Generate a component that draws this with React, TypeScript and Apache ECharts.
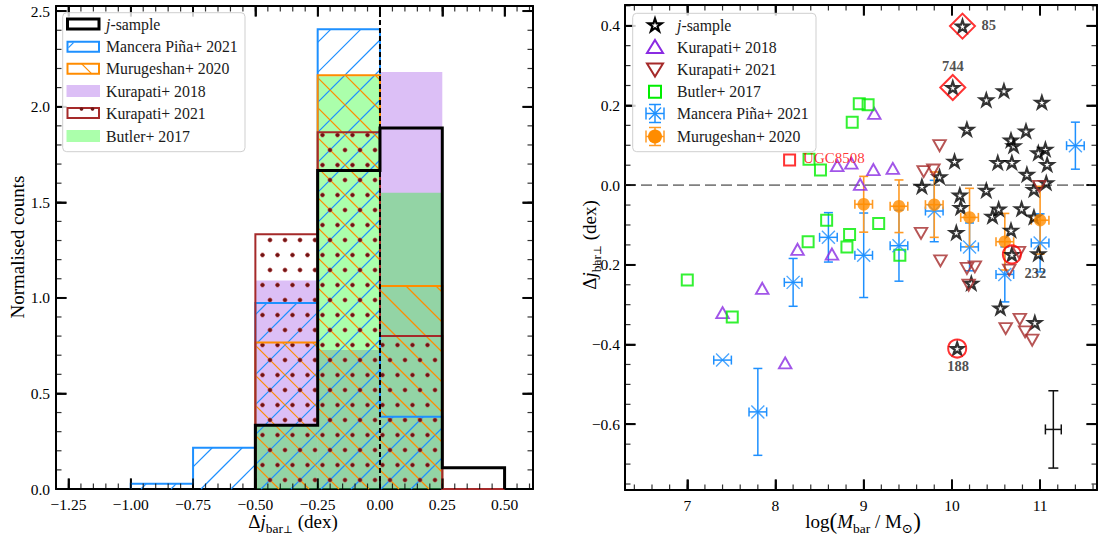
import React, { useEffect, useRef } from "react";
import * as echarts from "echarts";

const SERIF = "'Liberation Serif', 'DejaVu Serif', serif";

// ---------------- Left panel: normalised histograms (bin width 0.25 dex) ----------------
const jSampleEdges = [-0.5, -0.25, 0.0, 0.25, 0.5];
const jSampleHist = [0.333, 1.667, 1.889, 0.111];
const manceraEdges = [-1.0, -0.75, -0.5, -0.25, 0.0, 0.25];
const manceraHist = [0.027, 0.216, 0.973, 2.405, 0.378];
const murugeshanEdges = [-0.5, -0.25, 0.0, 0.25];
const murugeshanHist = [0.767, 2.165, 1.062];
const kurapati18Edges = [-0.5, -0.25, 0.0, 0.25];
const kurapati18Hist = [1.091, 0.727, 2.182];
const kurapati21Edges = [-0.5, -0.25, 0.0, 0.25, 0.5];
const kurapati21Hist = [1.333, 1.867, 0.8, 0.0];
const butlerEdges = [-0.5, -0.25, 0.0, 0.25];
const butlerHist = [0.33, 2.16, 1.55];

const leftXTicks = [-1.25, -1.0, -0.75, -0.5, -0.25, 0.0, 0.25, 0.5];
const leftXLabels = ["−1.25", "−1.00", "−0.75", "−0.50", "−0.25", "0.00", "0.25", "0.50"];
const leftYTicks = [0, 0.5, 1.0, 1.5, 2.0, 2.5];
const leftYLabels = ["0.0", "0.5", "1.0", "1.5", "2.0", "2.5"];

// ---------------- Right panel: scatter data [logMbar, delta j] ----------------
const jSample = [
  [10.12, 0.399], [10.01, 0.245], [10.39, 0.214], [10.59, 0.237], [11.02, 0.208],
  [10.17, 0.14], [10.84, 0.136], [10.67, 0.113], [10.7, 0.099], [10.98, 0.081],
  [11.06, 0.09], [10.03, 0.06], [10.52, 0.057], [10.68, 0.057], [11.08, 0.052],
  [10.85, 0.027], [9.86, 0.021], [9.66, -0.003], [10.39, -0.013], [10.09, -0.025],
  [10.93, -0.011], [11.07, 0.006], [10.1, -0.056], [10.79, -0.059], [10.53, -0.06],
  [10.46, -0.078], [10.05, -0.119], [10.67, -0.113], [10.68, -0.174], [10.98, -0.172],
  [10.93, -0.08], [10.22, -0.246], [10.55, -0.308], [10.94, -0.345], [10.06, -0.41],
];
const kurapati2018 = [
  [9.12, 0.18], [8.7, 0.049], [8.86, 0.055], [9.11, 0.039], [9.33, 0.042], [8.96, 0.002],
  [8.25, -0.161], [8.64, -0.173], [7.85, -0.259], [7.4, -0.32], [8.11, -0.446],
];
const kurapati2021 = [
  [9.86, 0.099], [9.68, 0.034], [9.79, 0.038], [10.99, -0.003], [9.65, -0.121],
  [9.87, -0.19], [10.76, -0.169], [10.17, -0.209], [10.26, -0.205], [10.19, -0.251],
  [10.65, -0.213], [10.61, -0.36], [10.77, -0.337], [10.83, -0.368], [10.91, -0.389],
];
const butler2017 = [
  [8.95, 0.204], [9.05, 0.202], [8.87, 0.158], [8.38, 0.065], [8.51, 0.038],
  [8.58, -0.088], [9.17, -0.096], [8.84, -0.124], [8.37, -0.142], [8.81, -0.155],
  [9.41, -0.176], [7.0, -0.238], [7.51, -0.331],
];
// [x, y, xerr, yerr]
const manceraPina2021 = [
  [7.4, -0.439, 0.1, 0], [7.8, -0.569, 0.1, 0.109], [8.2, -0.244, 0.1, 0.06],
  [8.6, -0.131, 0.1, 0.062], [9.0, -0.176, 0.1, 0.106], [9.4, -0.152, 0.1, 0.089],
  [9.8, -0.065, 0.1, 0.077], [10.2, -0.155, 0.1, 0.06], [10.6, -0.224, 0.1, 0.069],
  [11.0, -0.145, 0.1, 0.073], [11.4, 0.099, 0.1, 0.059],
];
const murugeshan2020 = [
  [9.0, -0.048, 0.1, 0.07], [9.4, -0.053, 0.1, 0.066], [9.8, -0.049, 0.1, 0.082],
  [10.2, -0.081, 0.1, 0.073], [10.6, -0.142, 0.1, 0.071], [11.0, -0.088, 0.1, 0.085],
];
const typicalError = [[11.15, -0.613, 0.09, 0.097]];
const highlightDiamonds = [[10.12, 0.399], [10.01, 0.245]];
const highlightCircles = [[10.68, -0.174], [10.06, -0.41]];
const ugcSquare = [[8.16, 0.063]];
const annotNames = ["85", "744", "232", "188"];
const annotPoints = [[10.12, 0.399], [10.01, 0.245], [10.68, -0.174], [10.06, -0.41]];

const rightXTicks = [7, 8, 9, 10, 11];
const rightXLabels = ["7", "8", "9", "10", "11"];
const rightYTicks = [-0.6, -0.4, -0.2, 0.0, 0.2, 0.4];
const rightYLabels = ["−0.6", "−0.4", "−0.2", "0.0", "0.2", "0.4"];

// ---------------- layout / style ----------------
const LX = [-1.3, 0.614];
const LY = [0, 2.527];
const RX = [6.294, 11.645];
const RY = [-0.765, 0.452];

const C_BLUE = "#1e90ff";
const C_ORANGE = "#ff8c00";
const C_BROWN = "#a52a2a";
const C_PURPLE = "#8a2be2";
const C_PURPLE_FILL = "rgba(138,43,226,0.3)";
const C_GREEN_FILL = "rgba(0,255,0,0.33)";
const C_LIME = "#00ee00";

const STAR_D =
  "M7 0 L8.57 4.84 L13.66 4.84 L9.54 7.83 L11.11 12.66 L7 9.67 L2.89 12.66 L4.46 7.83 L0.34 4.84 L5.43 4.84 Z";

let shapesRegistered = false;
function ensureShapes() {
  if (shapesRegistered) return;
  echarts.graphic.registerShape("legendStar", echarts.graphic.extendPath(STAR_D, {}));
  shapesRegistered = true;
}

function range(a: number, b: number, step: number) {
  const out: number[] = [];
  const n = Math.round((b - a) / step);
  for (let i = 0; i <= n; i++) out.push(+(a + i * step).toFixed(4));
  return out;
}
const leftXMinor = range(-1.25, 0.6, 0.05);
const leftYMinor = range(0.1, 2.5, 0.1);
const rightXMinor = range(6.4, 11.6, 0.2);
const rightYMinor = range(-0.75, 0.45, 0.05);

function makeAxes(kind: "x" | "y", gridIndex: number, mm: number[], major: number[], labels: string[], margin: number) {
  const isX = kind === "x";
  const common: any = {
    type: "value", gridIndex, min: mm[0], max: mm[1],
    splitLine: { show: false },
    axisTick: { show: true, inside: true, length: 10.5, customValues: major, lineStyle: { color: "#000", width: 1.8 } },
    axisLine: { show: true, onZero: false, lineStyle: { color: "#000", width: 2 } },
  };
  const fmt = (v: number) => {
    const i = major.findIndex((t) => Math.abs(t - v) < 1e-6);
    return i >= 0 ? labels[i] : "";
  };
  return [
    { ...common, position: isX ? "bottom" : "left", axisLabel: { show: true, customValues: major, formatter: fmt, margin, fontFamily: SERIF, fontSize: 15.5, color: "#000" } },
    { ...common, position: isX ? "top" : "right", axisLabel: { show: false, customValues: major } },
  ];
}

// inward frame ticks as small rect markers placed on the frame by the panel's own scales
function tickMarks(ai: number, xr: number[], yr: number[], xMaj: number[], xMin: number[], yMaj: number[], yMin: number[]) {
  const mk = (data: number[][], size: number[], offset: number[]) => ({
    type: "scatter", xAxisIndex: ai, yAxisIndex: ai, z: 9, silent: true, clip: false,
    symbol: "rect", symbolSize: size, symbolOffset: offset, itemStyle: { color: "#000" }, data,
  });
  const L1 = 10.5, W1 = 1.8, L2 = 5.5, W2 = 1.2;
  return [
    mk(xMaj.map((v) => [v, yr[0]]), [W1, L1], [0, -L1 / 2]),
    mk(xMaj.map((v) => [v, yr[1]]), [W1, L1], [0, L1 / 2]),
    mk(xMin.map((v) => [v, yr[0]]), [W2, L2], [0, -L2 / 2]),
    mk(xMin.map((v) => [v, yr[1]]), [W2, L2], [0, L2 / 2]),
    mk(yMaj.map((v) => [xr[0], v]), [L1, W1], [L1 / 2, 0]),
    mk(yMaj.map((v) => [xr[1], v]), [L1, W1], [-L1 / 2, 0]),
    mk(yMin.map((v) => [xr[0], v]), [L2, W2], [L2 / 2, 0]),
    mk(yMin.map((v) => [xr[1], v]), [L2, W2], [-L2 / 2, 0]),
  ];
}

const toBins = (edges: number[], hist: number[]) => hist.map((h, i) => [edges[i], edges[i + 1], h]);
const stepData = (edges: number[], hist: number[]) => {
  const pts: number[][] = [[edges[0], 0]];
  hist.forEach((h, i) => {
    pts.push([edges[i], h]);
    pts.push([edges[i + 1], h]);
  });
  pts.push([edges[edges.length - 1], 0]);
  return pts;
};

function binRect(api: any) {
  const a = api.coord([api.value(0), api.value(2)]);
  const b = api.coord([api.value(1), 0]);
  return { L: Math.min(a[0], b[0]), R: Math.max(a[0], b[0]), T: Math.min(a[1], b[1]), B: Math.max(a[1], b[1]) };
}

const fillSeries = (edges: number[], hist: number[], color: string, z: number) => ({
  type: "custom", xAxisIndex: 0, yAxisIndex: 0, z, silent: true,
  data: toBins(edges, hist),
  renderItem: (_p: any, api: any) => {
    const r = binRect(api);
    return { type: "rect", shape: { x: r.L, y: r.T, width: r.R - r.L, height: r.B - r.T }, style: { fill: color } };
  },
});

const hatchSeries = (edges: number[], hist: number[], color: string, dir: "/" | "\\", z: number) => ({
  type: "custom", xAxisIndex: 0, yAxisIndex: 0, z, silent: true,
  data: toBins(edges, hist),
  renderItem: (_p: any, api: any) => {
    const { L, R, T, B } = binRect(api);
    const s = 30;
    const children: any[] = [];
    if (B - T > 0.5) {
      if (dir === "/") {
        for (let c = Math.ceil((L + T) / s) * s; c <= R + B; c += s) {
          const xa = Math.max(L, c - B), xb = Math.min(R, c - T);
          if (xb > xa) children.push({ type: "line", shape: { x1: xa, y1: c - xa, x2: xb, y2: c - xb }, style: { stroke: color, lineWidth: 1.2 } });
        }
      } else {
        for (let c = Math.ceil((L - B) / s) * s; c <= R - T; c += s) {
          const xa = Math.max(L, c + T), xb = Math.min(R, c + B);
          if (xb > xa) children.push({ type: "line", shape: { x1: xa, y1: xa - c, x2: xb, y2: xb - c }, style: { stroke: color, lineWidth: 1.2 } });
        }
      }
    }
    return { type: "group", children };
  },
});

const dotSeries = (edges: number[], hist: number[], z: number) => ({
  type: "custom", xAxisIndex: 0, yAxisIndex: 0, z, silent: true,
  data: toBins(edges, hist),
  renderItem: (_p: any, api: any) => {
    const { L, R, T, B } = binRect(api);
    const sp = 15;
    const children: any[] = [];
    for (let k = Math.ceil((T + 2) / sp); k * sp <= B - 2; k++) {
      const yy = k * sp;
      const off = Math.abs(k) % 2 === 1 ? sp / 2 : 0;
      for (let m = Math.ceil((L + 2 - off) / sp); m * sp + off <= R - 2; m++) {
        children.push({ type: "circle", shape: { cx: m * sp + off, cy: yy, r: 2.1 }, style: { fill: "#6e1616", stroke: "#c04848", lineWidth: 0.6 } });
      }
    }
    return { type: "group", children };
  },
});

const outlineSeries = (edges: number[], hist: number[], color: string, width: number, z: number) => ({
  type: "line", xAxisIndex: 0, yAxisIndex: 0, z, silent: true, symbol: "none",
  data: stepData(edges, hist),
  lineStyle: { color, width, join: "miter", cap: "butt" },
});

function errRender(color: string, width: number, cap: number) {
  return (_p: any, api: any) => {
    const x = api.value(0), y = api.value(1), ex = api.value(2), ey = api.value(3);
    const c = api.coord([x, y]);
    const segs: number[][] = [];
    if (ex > 0) {
      const l = api.coord([x - ex, y]), r = api.coord([x + ex, y]);
      segs.push([l[0], c[1], r[0], c[1]], [l[0], c[1] - cap, l[0], c[1] + cap], [r[0], c[1] - cap, r[0], c[1] + cap]);
    }
    if (ey > 0) {
      const t = api.coord([x, y + ey]), b = api.coord([x, y - ey]);
      segs.push([c[0], t[1], c[0], b[1]], [c[0] - cap, t[1], c[0] + cap, t[1]], [c[0] - cap, b[1], c[0] + cap, b[1]]);
    }
    return {
      type: "group",
      children: segs.map((s) => ({ type: "line", shape: { x1: s[0], y1: s[1], x2: s[2], y2: s[3] }, style: { stroke: color, lineWidth: width } })),
    };
  };
}

const RI = { xAxisIndex: 2, yAxisIndex: 2 };
const hollow = (color: string, w: number) => ({ color: "rgba(0,0,0,0)", borderColor: color, borderWidth: w });

function buildGraphics(): any[] {
  const LEG_FONT = 15.8;
  const txt = (x: number, y: number, text: string, extra: any = {}) => ({
    type: "text", x, y, z: 100,
    style: { text, fontFamily: SERIF, fontSize: LEG_FONT, fill: "#1a1a1a", verticalAlign: "middle", align: "left", ...extra },
  });
  const jRich = {
    i: { fontFamily: SERIF, fontStyle: "italic", fontSize: LEG_FONT },
    n: { fontFamily: SERIF, fontSize: LEG_FONT },
  };

  const leftRows = [24, 46.7, 68.7, 91, 113, 136];
  const px0 = 67.5, pw = 31.5, ph = 10;
  const leftLegend: any[] = [
    { type: "rect", z: 99, shape: { x: 62.7, y: 12.7, width: 182.3, height: 139, r: 4 }, style: { fill: "rgba(255,255,255,0.8)", stroke: "#cfcfcf", lineWidth: 1 } },
    { type: "rect", z: 100, shape: { x: px0, y: leftRows[0] - ph / 2, width: pw, height: ph }, style: { fill: "none", stroke: "#000", lineWidth: 3 } },
    { type: "rect", z: 100, shape: { x: px0, y: leftRows[1] - ph / 2, width: pw, height: ph }, style: { fill: "none", stroke: C_BLUE, lineWidth: 2 } },
    { type: "line", z: 100, shape: { x1: px0 + 1, y1: leftRows[1] + 1, x2: px0 + 6, y2: leftRows[1] - 4 }, style: { stroke: C_BLUE, lineWidth: 1.2 } },
    { type: "rect", z: 100, shape: { x: px0, y: leftRows[2] - ph / 2, width: pw, height: ph }, style: { fill: "none", stroke: C_ORANGE, lineWidth: 2 } },
    { type: "line", z: 100, shape: { x1: px0 + 14, y1: leftRows[2] - 5, x2: px0 + 24, y2: leftRows[2] + 5 }, style: { stroke: C_ORANGE, lineWidth: 1.2 } },
    { type: "rect", z: 100, shape: { x: px0 - 1, y: leftRows[3] - ph / 2 - 1, width: pw + 2, height: ph + 2 }, style: { fill: C_PURPLE_FILL } },
    { type: "rect", z: 100, shape: { x: px0, y: leftRows[4] - ph / 2, width: pw, height: ph }, style: { fill: "none", stroke: C_BROWN, lineWidth: 2 } },
    { type: "circle", z: 100, shape: { cx: px0 + 14, cy: leftRows[4] - ph / 2 + 1, r: 1.8 }, style: { fill: "#6e1616" } },
    { type: "circle", z: 100, shape: { cx: px0 + 25, cy: leftRows[4] - ph / 2 + 1, r: 1.8 }, style: { fill: "#6e1616" } },
    { type: "rect", z: 100, shape: { x: px0 - 1, y: leftRows[5] - ph / 2 - 1, width: pw + 2, height: ph + 2 }, style: { fill: C_GREEN_FILL } },
    txt(106, leftRows[0], "{i|j}{n|-sample}", { rich: jRich }),
    txt(106, leftRows[1], "Mancera Piña+ 2021"),
    txt(106, leftRows[2], "Murugeshan+ 2020"),
    txt(106, leftRows[3], "Kurapati+ 2018"),
    txt(106, leftRows[4], "Kurapati+ 2021"),
    txt(106, leftRows[5], "Butler+ 2017"),
  ];

  const rRows = [25, 47, 69.5, 91.7, 113.5, 136.5];
  const mx = 655, tx = 677;
  const errGlyph = (cy: number, color: string) => {
    const e = 9, cap = 6;
    const segs = [
      [mx - e, cy, mx + e, cy], [mx - e, cy - cap, mx - e, cy + cap], [mx + e, cy - cap, mx + e, cy + cap],
      [mx, cy - e, mx, cy + e], [mx - cap, cy - e, mx + cap, cy - e], [mx - cap, cy + e, mx + cap, cy + e],
    ];
    return segs.map((s) => ({ type: "line", z: 100, shape: { x1: s[0], y1: s[1], x2: s[2], y2: s[3] }, style: { stroke: color, lineWidth: 1.5 } }));
  };
  const rightLegend: any[] = [
    { type: "rect", z: 99, shape: { x: 632.7, y: 13.3, width: 183.3, height: 138.4, r: 4 }, style: { fill: "rgba(255,255,255,0.8)", stroke: "#cfcfcf", lineWidth: 1 } },
    { type: "legendStar", z: 100, x: mx - 7, y: rRows[0] - 6.5, style: { fill: "none", stroke: "#000", lineWidth: 2.2 } },
    { type: "polygon", z: 100, shape: { points: [[mx, rRows[1] - 7], [mx + 8, rRows[1] + 6], [mx - 8, rRows[1] + 6]] }, style: { fill: "none", stroke: C_PURPLE, lineWidth: 2 } },
    { type: "polygon", z: 100, shape: { points: [[mx - 8, rRows[2] - 6], [mx + 8, rRows[2] - 6], [mx, rRows[2] + 7]] }, style: { fill: "none", stroke: C_BROWN, lineWidth: 2 } },
    { type: "rect", z: 100, shape: { x: mx - 6, y: rRows[3] - 6, width: 12, height: 12 }, style: { fill: "none", stroke: C_LIME, lineWidth: 2 } },
    ...errGlyph(rRows[4], C_BLUE),
    { type: "line", z: 100, shape: { x1: mx - 6, y1: rRows[4] - 6, x2: mx + 6, y2: rRows[4] + 6 }, style: { stroke: C_BLUE, lineWidth: 1.4 } },
    { type: "line", z: 100, shape: { x1: mx + 6, y1: rRows[4] - 6, x2: mx - 6, y2: rRows[4] + 6 }, style: { stroke: C_BLUE, lineWidth: 1.4 } },
    ...errGlyph(rRows[5], "#ff9a24"),
    { type: "circle", z: 100, shape: { cx: mx, cy: rRows[5], r: 7 }, style: { fill: C_ORANGE } },
    txt(tx, rRows[0], "{i|j}{n|-sample}", { rich: jRich }),
    txt(tx, rRows[1], "Kurapati+ 2018"),
    txt(tx, rRows[2], "Kurapati+ 2021"),
    txt(tx, rRows[3], "Butler+ 2017"),
    txt(tx, rRows[4], "Mancera Piña+ 2021"),
    txt(tx, rRows[5], "Murugeshan+ 2020"),
  ];

  const T = 19;
  const titleRich = {
    n: { fontFamily: SERIF, fontSize: T, lineHeight: 28, verticalAlign: "middle" },
    i: { fontFamily: SERIF, fontSize: T, fontStyle: "italic", lineHeight: 28, verticalAlign: "middle" },
    s: { fontFamily: SERIF, fontSize: 13.5, lineHeight: 13, verticalAlign: "bottom" },
    t: { fontFamily: SERIF, fontSize: 10.5, lineHeight: 4, verticalAlign: "bottom" },
    p: { fontFamily: SERIF, fontSize: 23, lineHeight: 28, verticalAlign: "middle" },
  };
  const djText = "{n|Δ}{i|j}{s|bar}{t|⊥}{n| (dex)}";
  const titles: any[] = [
    { type: "text", z: 100, x: 293, y: 521, style: { text: djText, rich: titleRich, align: "center", verticalAlign: "middle", fill: "#000" } },
    { type: "text", z: 100, x: 863, y: 521, style: { text: "{n|log}{p|(}{i|M}{s|bar}{n| / M}{s|⊙}{p|)}", rich: titleRich, align: "center", verticalAlign: "middle", fill: "#000" } },
    { type: "text", z: 100, x: 17, y: 247, rotation: Math.PI / 2, style: { text: "Normalised counts", fontFamily: SERIF, fontSize: T, align: "center", verticalAlign: "middle", fill: "#000" } },
    { type: "text", z: 100, x: 589, y: 245, rotation: Math.PI / 2, style: { text: djText, rich: titleRich, align: "center", verticalAlign: "middle", fill: "#000" } },
  ];
  return [...leftLegend, ...rightLegend, ...titles];
}

function buildOption(): any {
  const xAxis = [
    ...makeAxes("x", 0, LX, leftXTicks, leftXLabels, 7),
    ...makeAxes("x", 1, RX, rightXTicks, rightXLabels, 7),
  ];
  const yAxis = [
    ...makeAxes("y", 0, LY, leftYTicks, leftYLabels, 6),
    ...makeAxes("y", 1, RY, rightYTicks, rightYLabels, 5),
  ];

  const annotOffsets = [[19, -1], [0, -21], [23.5, 18.5], [1, 17.5]];
  const annotAlign = ["left", "center", "center", "center"];

  const series: any[] = [
    // left panel
    fillSeries(kurapati18Edges, kurapati18Hist, C_PURPLE_FILL, 1),
    fillSeries(butlerEdges, butlerHist, C_GREEN_FILL, 1),
    hatchSeries(manceraEdges, manceraHist, C_BLUE, "/", 2),
    hatchSeries(murugeshanEdges, murugeshanHist, C_ORANGE, "\\", 2),
    dotSeries(kurapati21Edges, kurapati21Hist, 2),
    outlineSeries(manceraEdges, manceraHist, C_BLUE, 2, 5),
    outlineSeries(murugeshanEdges, murugeshanHist, C_ORANGE, 2, 5),
    outlineSeries(kurapati21Edges, kurapati21Hist, C_BROWN, 2, 5),
    {
      type: "line", xAxisIndex: 0, yAxisIndex: 0, z: 6, silent: true, symbol: "none",
      data: [[0, LY[0]], [0, LY[1]]],
      lineStyle: { color: "#000", width: 2, type: [5, 3] },
    },
    outlineSeries(jSampleEdges, jSampleHist, "#000", 3, 7),
    ...tickMarks(0, LX, LY, leftXTicks, leftXMinor, leftYTicks, leftYMinor),

    // right panel
    {
      type: "line", ...RI, z: 1, silent: true, symbol: "none",
      data: [[RX[0], 0], [RX[1], 0]],
      lineStyle: { color: "#808080", width: 1.6, type: [11, 5] },
    },
    {
      type: "scatter", ...RI, z: 5, silent: true, data: jSample,
      symbol: "path://" + STAR_D, symbolSize: 12.5, symbolKeepAspect: true,
      itemStyle: hollow("#000", 2.2),
    },
    {
      type: "scatter", ...RI, z: 5, silent: true, data: kurapati2018,
      symbol: "triangle", symbolSize: [12.5, 11], itemStyle: hollow(C_PURPLE, 1.9),
    },
    {
      type: "scatter", ...RI, z: 5, silent: true, data: kurapati2021,
      symbol: "triangle", symbolRotate: 180, symbolSize: [12.5, 11], itemStyle: hollow(C_BROWN, 1.9),
    },
    {
      type: "scatter", ...RI, z: 5, silent: true, data: butler2017,
      symbol: "rect", symbolSize: 11, itemStyle: hollow(C_LIME, 2),
    },
    { type: "custom", ...RI, z: 5, silent: true, data: manceraPina2021, renderItem: errRender(C_BLUE, 1.5, 4.5) },
    {
      type: "scatter", ...RI, z: 5, silent: true, data: manceraPina2021.map((d) => [d[0], d[1]]),
      symbol: "path://M0 0 L10 10 M10 0 L0 10", symbolSize: 13, itemStyle: hollow(C_BLUE, 1.4),
    },
    { type: "custom", ...RI, z: 5, silent: true, data: murugeshan2020, renderItem: errRender("#ff9a24", 1.6, 4.5) },
    {
      type: "scatter", ...RI, z: 5, silent: true, data: murugeshan2020.map((d) => [d[0], d[1]]),
      symbol: "circle", symbolSize: 12.5, itemStyle: { color: C_ORANGE },
    },
    { type: "custom", ...RI, z: 5, silent: true, data: typicalError, renderItem: errRender("#111", 1.5, 5) },
    {
      type: "scatter", ...RI, z: 6, silent: true, data: highlightDiamonds,
      symbol: "diamond", symbolSize: 25, itemStyle: hollow("#ff0000", 2),
    },
    {
      type: "scatter", ...RI, z: 6, silent: true, data: highlightCircles,
      symbol: "circle", symbolSize: 18, itemStyle: hollow("#ff0000", 2),
    },
    {
      type: "scatter", ...RI, z: 6, silent: true, data: ugcSquare,
      symbol: "rect", symbolSize: 11, itemStyle: hollow("#ff0000", 2),
      label: {
        show: true, position: "inside", formatter: "UGC8508", offset: [13.5, -1.6], align: "left",
        verticalAlign: "middle", color: "#ff0000", fontFamily: SERIF, fontSize: 15,
      },
    },
    {
      type: "scatter", ...RI, z: 7, silent: true, symbolSize: 1, itemStyle: { color: "rgba(0,0,0,0)" },
      data: annotPoints.map((p, i) => ({
        value: p,
        label: {
          show: true, position: "inside", formatter: annotNames[i], offset: annotOffsets[i], align: annotAlign[i],
          verticalAlign: "middle", color: "#222", fontFamily: SERIF, fontWeight: "bold", fontSize: 14.5,
        },
      })),
    },
    ...tickMarks(2, RX, RY, rightXTicks, rightXMinor, rightYTicks, rightYMinor),
  ];

  return {
    animation: false,
    grid: [
      { left: 56, top: 6, width: 477, height: 483, show: false },
      { left: 625, top: 5, width: 472, height: 485, show: false },
    ],
    xAxis,
    yAxis,
    series,
    graphic: buildGraphics(),
  };
}

export default function App() {
  const ref = useRef<HTMLDivElement>(null);
  useEffect(() => {
    ensureShapes();
    const chart = echarts.init(ref.current as HTMLDivElement, undefined, { renderer: "svg" });
    chart.setOption(buildOption());
    return () => chart.dispose();
  }, []);
  return <div ref={ref} style={{ position: "fixed", left: 0, top: 0, width: 1099, height: 544, background: "#fff" }} />;
}
